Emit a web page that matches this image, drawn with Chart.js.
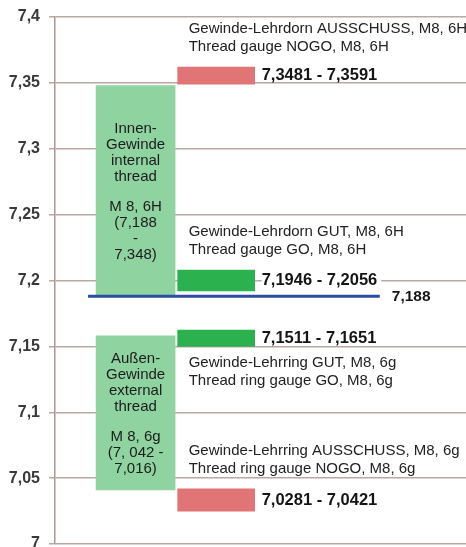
<!DOCTYPE html>
<html><head><meta charset="utf-8">
<script src="https://cdn.jsdelivr.net/npm/chart.js@4/dist/chart.umd.min.js"></script>
<style>html,body{margin:0;padding:0;background:#fff}#wrap{width:466px;height:547px;position:relative}</style>
</head><body><div id="wrap"><canvas id="c"></canvas></div>
<script>
// ---- data ----
const yTickValues = [7, 7.05, 7.1, 7.15, 7.2, 7.25, 7.3, 7.35, 7.4];
const threadCategories = ['Innen-Gewinde', 'Außen-Gewinde'];
const threadRanges = [[7.188, 7.348], [7.041, 7.158]];
const threadTexts = [
  ['Innen-', 'Gewinde', 'internal', 'thread', '', 'M 8, 6H', '(7,188', '-', '7,348)'],
  ['Außen-', 'Gewinde', 'external', 'thread', '', 'M 8, 6g', '(7, 042 -', '7,016)']
];
const gaugeNames = [
  ['Gewinde-Lehrdorn AUSSCHUSS, M8, 6H', 'Thread gauge NOGO, M8, 6H'],
  ['Gewinde-Lehrdorn GUT, M8, 6H', 'Thread gauge GO, M8, 6H'],
  ['Gewinde-Lehrring GUT, M8, 6g', 'Thread ring gauge GO, M8, 6g'],
  ['Gewinde-Lehrring AUSSCHUSS, M8, 6g', 'Thread ring gauge NOGO, M8, 6g']
];
const gaugeTypes = ['NOGO', 'GO', 'GO', 'NOGO'];
const gaugeRanges = [[7.349, 7.362], [7.192, 7.208], [7.150, 7.1624], [7.025, 7.0418]];
const gaugeRangeLabels = ['7,3481 - 7,3591', '7,1946 - 7,2056', '7,1511 - 7,1651', '7,0281 - 7,0421'];
const nominalValue = 7.188;
const nominalLabel = '7,188';
const nominalSpan = [0.41, 4.03];
const threadColumn = 1;
const gaugeColumn = 2;

// ---- styles ----
const FONT = '"Liberation Sans", Arial, sans-serif';
const COL_THREAD = '#8fd3a0';
const COL_GO = '#2bb14d';
const COL_NOGO = '#e17575';
const COL_NOMINAL = '#2b4ea2';
const COL_GRID = '#b9a8a3';
const namePlacement = ['above', 'above', 'below', 'above'];

function fmt(v) {
  return (Math.round(v * 100) / 100).toString().replace('.', ',');
}

const labelPlugin = {
  id: 'labelPlugin',
  afterDatasetsDraw(chart) {
    const ctx = chart.ctx;
    ctx.save();
    ctx.textBaseline = 'middle';
    // thread boxes text
    const tMeta = chart.getDatasetMeta(0);
    tMeta.data.forEach((el, i) => {
      const top = Math.min(el.y, el.base), bottom = Math.max(el.y, el.base);
      const lines = threadTexts[i];
      const lh = 16, blank = 30;
      let pos = [], y = 0;
      lines.forEach((t) => {
        if (t === '') { y += blank - lh; return; }
        pos.push([t, y]);
        y += lh;
      });
      const span = pos[pos.length - 1][1];
      const start = (top + bottom) / 2 - span / 2 + 1;
      ctx.font = '15px ' + FONT;
      ctx.fillStyle = '#1c1c1c';
      ctx.textAlign = 'center';
      pos.forEach(([t, dy]) => ctx.fillText(t, el.x, start + dy));
    });
    // gauge labels
    const gMeta = chart.getDatasetMeta(1);
    gMeta.data.forEach((el, i) => {
      const top = Math.min(el.y, el.base), bottom = Math.max(el.y, el.base);
      const left = el.x - el.width / 2, right = el.x + el.width / 2;
      ctx.textAlign = 'left';
      ctx.font = '15px ' + FONT;
      ctx.fillStyle = '#222';
      const nm = gaugeNames[i];
      if (namePlacement[i] === 'above') {
        ctx.fillText(nm[0], left + 11, top - 38);
        ctx.fillText(nm[1], left + 11, top - 20);
      } else {
        ctx.fillText(nm[0], left + 11, bottom + 16);
        ctx.fillText(nm[1], left + 11, bottom + 34);
      }
      ctx.font = 'bold 16.5px ' + FONT;
      const cy = (top + bottom) / 2;
      const w = ctx.measureText(gaugeRangeLabels[i]).width;
      ctx.fillStyle = '#fff';
      ctx.fillRect(right + 7, cy - 6, w + 4, 12);
      ctx.fillStyle = '#151515';
      ctx.fillText(gaugeRangeLabels[i], right + 7, cy);
    });
    // nominal label
    const lMeta = chart.getDatasetMeta(2);
    const last = lMeta.data[lMeta.data.length - 1];
    ctx.font = 'bold 15.5px ' + FONT;
    ctx.fillStyle = '#151515';
    ctx.textAlign = 'left';
    ctx.fillText(nominalLabel, last.x + 12, last.y);
    ctx.restore();
  }
};

new Chart(document.getElementById('c'), {
  type: 'bar',
  data: {
    datasets: [
      {
        label: 'thread',
        data: threadRanges.map((r, i) => ({ x: threadColumn, y: r, c: threadCategories[i] })),
        backgroundColor: COL_THREAD,
        barThickness: 79,
        stack: 's',
        order: 2
      },
      {
        label: 'gauge',
        data: gaugeRanges.map(r => ({ x: gaugeColumn, y: r })),
        backgroundColor: gaugeTypes.map(t => t === 'GO' ? COL_GO : COL_NOGO),
        barThickness: 77,
        stack: 's',
        order: 1
      },
      {
        type: 'line',
        label: 'nominal',
        data: nominalSpan.map(x => ({ x: x, y: nominalValue })),
        borderColor: COL_NOMINAL,
        borderWidth: 3,
        pointRadius: 0,
        fill: false,
        order: 0
      }
    ]
  },
  options: {
    responsive: true,
    maintainAspectRatio: false,
    animation: false,
    layout: { padding: { top: 17, bottom: 3, left: 0, right: 0 } },
    plugins: { legend: { display: false }, tooltip: { enabled: false } },
    scales: {
      x: { type: 'linear', min: 0, max: 5.1, display: false, offset: false, grid: { offset: false } },
      y: {
        type: 'linear', min: 7, max: 7.4, stacked: false,
        afterBuildTicks: s => { s.ticks = yTickValues.map(v => ({ value: v })); },
        afterFit: s => { s.width = 55; s.paddingTop = 0; s.paddingBottom = 0; },
        ticks: {
          callback: v => fmt(v),
          font: { family: FONT, size: 16, weight: 'bold' },
          color: '#3a3a3a',
          padding: 9
        },
        grid: { color: COL_GRID, lineWidth: 1.5, tickLength: 6, drawTicks: true },
        border: { color: '#a99892', width: 1.5 }
      }
    }
  },
  plugins: [labelPlugin]
});
</script>
</body></html>
